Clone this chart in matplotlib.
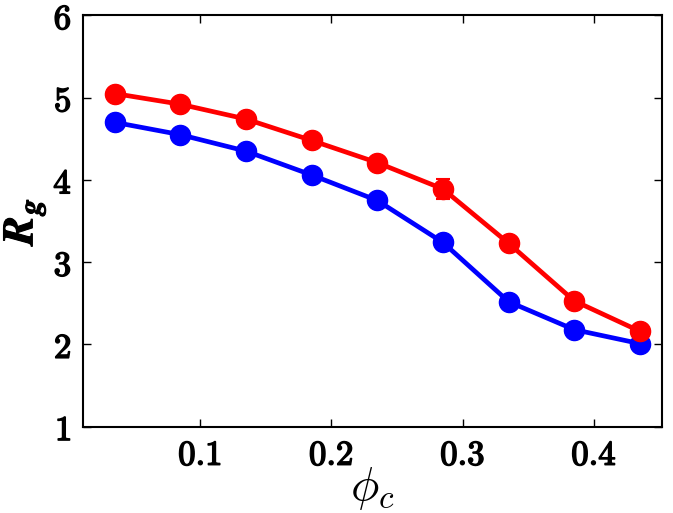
import numpy as np
import matplotlib
matplotlib.use('Agg')
import matplotlib.pyplot as plt
import matplotlib.patheffects as pe
from matplotlib.ticker import FuncFormatter

# volume fraction of crowders
phi_c = [0.035, 0.085, 0.135, 0.185, 0.235, 0.285, 0.335, 0.385, 0.435]

# radius of gyration, two series
rg_red = [5.05, 4.92, 4.74, 4.48, 4.21, 3.89, 3.23, 2.53, 2.16]
rg_red_err = [0.02, 0.02, 0.02, 0.02, 0.03, 0.12, 0.04, 0.03, 0.02]
rg_blue = [4.70, 4.55, 4.35, 4.06, 3.75, 3.24, 2.52, 2.18, 2.01]
rg_blue_err = [0.02, 0.02, 0.02, 0.02, 0.02, 0.03, 0.03, 0.02, 0.02]

xticks = [0.1, 0.2, 0.3, 0.4]
yticks = [1, 2, 3, 4, 5, 6]

plt.rcParams['mathtext.fontset'] = 'cm'

fig = plt.figure(figsize=(6.73, 5.13), dpi=100)
ax = fig.add_axes([0.1229, 0.1682, 0.9832 - 0.1229, 0.970 - 0.1682])

ax.errorbar(phi_c, rg_blue, yerr=rg_blue_err, color='blue', marker='o',
            markersize=14.5, linewidth=3.4, capsize=5, capthick=1.5, elinewidth=1.5)
ax.errorbar(phi_c, rg_red, yerr=rg_red_err, color='red', marker='o',
            markersize=14.5, linewidth=3.4, capsize=5, capthick=1.5, elinewidth=1.5)

ax.set_xlim(0.0107, 0.4516)
ax.set_ylim(1, 6)
ax.set_xticks(xticks)
ax.set_yticks(yticks)
ax.xaxis.set_major_formatter(FuncFormatter(lambda v, p: r'$\mathbf{%.1f}$' % v))
ax.yaxis.set_major_formatter(FuncFormatter(lambda v, p: r'$\mathbf{%d}$' % v))
ax.tick_params(direction='in', length=6, width=1, labelsize=25, pad=8,
               top=True, right=True)
for s in ax.spines.values():
    s.set_linewidth(1.5)

# cmb10 is lighter than the original's bold, so thicken the glyphs a bit
thick = [pe.withStroke(linewidth=1.1, foreground='black')]
for lab in ax.get_xticklabels() + ax.get_yticklabels():
    lab.set_path_effects(thick)

ax.set_xlabel(r'$\phi_c$', fontsize=34, labelpad=-5)
ylab = ax.set_ylabel(r'$\mathbfit{R}_{\mathbfit{g}}$', fontsize=31, labelpad=4)
ylab.set_path_effects([pe.withStroke(linewidth=0.8, foreground='black')])

fig.savefig('out.png', dpi=100)
